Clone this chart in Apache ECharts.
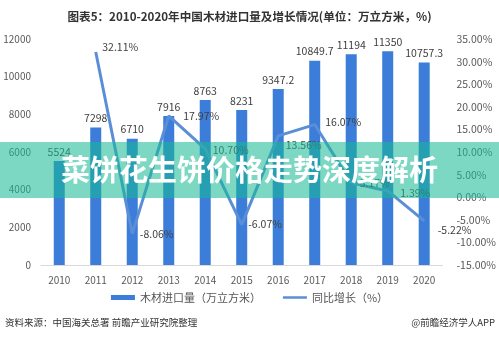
<!DOCTYPE html>
<html><head><meta charset="utf-8">
<script src="https://cdn.jsdelivr.net/npm/echarts@6/dist/echarts.min.js"></script>
<style>html,body{margin:0;padding:0;background:#fff}#c{width:499px;height:341px}</style>
</head><body><div id="c"></div>
<script>
var years = ['2010','2011','2012','2013','2014','2015','2016','2017','2018','2019','2020'];
var importVolume = [5524, 7298, 6710, 7916, 8763, 8231, 9347.2, 10849.7, 11194, 11350, 10757.3];
var growthRate = [null, 32.11, -8.06, 17.97, 10.70, -6.07, 13.56, 16.07, 3.17, 1.39, -5.22];
var growthLabelPos = [null, 'right', 'right', 'right', 'right', 'right', 'right', 'right', 'right', 'right', 'right'];
var growthLabelOffset = [null, [2,-5], [3,0], [10,0], [3,1], [2,-1], [3,9], [6,-3], [4,0], [8,2], [9,9]];
var title = '图表5：2010-2020年中国木材进口量及增长情况(单位：万立方米，%)';
var seriesNames = ['木材进口量（万立方米）', '同比增长（%）'];
var bannerText = '菜饼花生饼价格走势深度解析';
var sourceText = '资料来源：中国海关总署 前瞻产业研究院整理';
var brandText = '@前瞻经济学人APP';

var FONT = '"Noto Sans CJK SC", "Microsoft YaHei", sans-serif';
var chart = echarts.init(document.getElementById('c'), null, {renderer: 'canvas'});

var lineData = growthRate.map(function (v, i) {
  if (v === null) return null;
  return {
    value: v,
    label: {position: growthLabelPos[i], offset: growthLabelOffset[i]}
  };
});

var option = {
  animation: false,
  backgroundColor: '#fff',
  textStyle: {fontFamily: FONT},
  title: {
    text: title, left: 'center', top: 6,
    textStyle: {fontSize: 11.6, fontWeight: 'bold', color: '#333', fontFamily: FONT}
  },
  grid: {left: 41, right: 55, top: 39, bottom: 76},
  legend: {
    bottom: 33, left: 'center', itemGap: 22, itemWidth: 24, itemHeight: 5,
    textStyle: {fontSize: 11, color: '#555', fontFamily: FONT},
    data: [{name: seriesNames[0], icon: 'rect'},
           {name: seriesNames[1], icon: 'path://M0,0L24,0L24,2.5L0,2.5Z',
            itemStyle: {color: '#5a8fd8', opacity: 1}}]
  },
  xAxis: {
    type: 'category', data: years,
    axisLine: {lineStyle: {color: '#d9d9d9'}},
    axisTick: {show: false},
    axisLabel: {fontSize: 10, color: '#595959', margin: 10, fontFamily: FONT}
  },
  yAxis: [{
    type: 'value', min: 0, max: 12000, interval: 2000,
    axisLine: {show: false}, axisTick: {show: false}, splitLine: {show: false},
    axisLabel: {fontSize: 10, color: '#595959', margin: 10, fontFamily: FONT,
      formatter: function (v) { return String(v); }}
  }, {
    type: 'value', min: -15, max: 35, interval: 5,
    axisLine: {show: false}, axisTick: {show: false}, splitLine: {show: false},
    axisLabel: {fontSize: 10.5, color: '#595959', margin: 14, fontFamily: FONT,
      formatter: function (v) { return v.toFixed(2) + '%'; }}
  }],
  series: [{
    name: seriesNames[0], type: 'bar', data: importVolume, barWidth: 11,
    itemStyle: {color: '#3b7dd8'},
    label: {show: true, position: 'top', distance: 4, fontSize: 10.5, color: '#404040', fontFamily: FONT}
  }, {
    name: seriesNames[1], type: 'line', yAxisIndex: 1, data: lineData,
    symbol: 'circle', symbolSize: 1, showSymbol: true, connectNulls: false,
    lineStyle: {color: '#5a8fd8', width: 3},
    itemStyle: {color: 'rgba(90,143,216,0)'},
    label: {show: true, fontSize: 10.5, color: '#404040', distance: 4, fontFamily: FONT,
      formatter: function (p) { return p.value.toFixed(2) + '%'; }}
  }],
  graphic: [
    {type: 'text', left: 5, top: 318, style: {text: sourceText, fontSize: 9.5, fill: '#333', fontFamily: FONT}},
    {type: 'text', right: 4, top: 318, style: {text: brandText, fontSize: 9.5, fill: '#333', fontFamily: FONT}},
    {type: 'rect', left: 0, top: 142, z: 100, shape: {width: 499, height: 56},
      style: {fill: 'rgba(25,185,150,0.57)'}},
    {type: 'text', left: 'center', top: 155, z: 101,
      style: {text: bannerText, fontSize: 29, fontWeight: 'bold', fill: '#fff', fontFamily: FONT}}
  ]
};
chart.setOption(option);
</script>
</body></html>
